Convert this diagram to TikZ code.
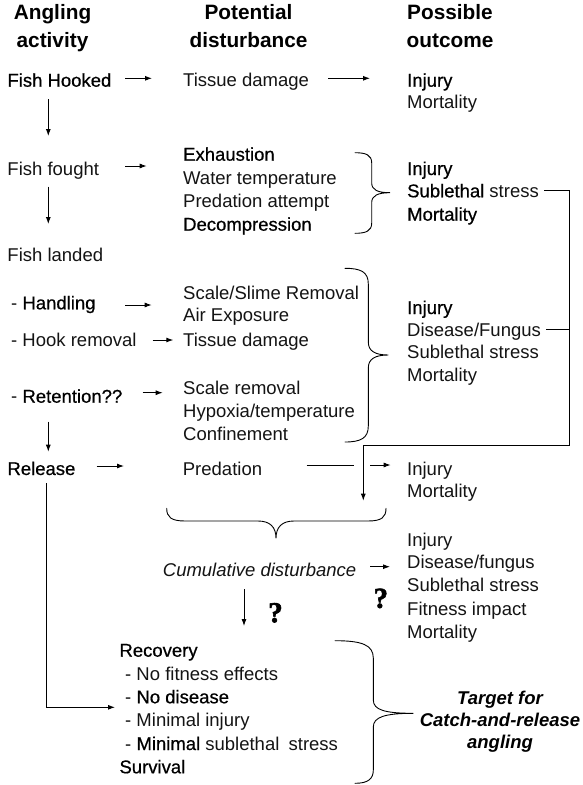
\documentclass[tikz,border=0pt]{standalone}
\usepackage{fontspec}
\setmainfont{Liberation Sans}
\newfontfamily\heavyfont[FakeBold=0.6]{Liberation Sans}
\newfontfamily\qfont[BoldFeatures={FakeBold=2}]{Liberation Serif}
\usetikzlibrary{arrows.meta}
\newcommand\darkword[1]{{\heavyfont\color{black}#1}}
\tikzset{
  txt/.style={anchor=base west, inner sep=0pt, font=\fontsize{18.5}{22}\selectfont, text=black!92},
  hdr/.style={anchor=base, inner sep=0pt, font=\fontsize{20.8}{26}\selectfont\bfseries, text=black},
  tgt/.style={anchor=base, inner sep=0pt, font=\fontsize{18.5}{22}\selectfont\bfseries\itshape, text=black},
  qmark/.style={anchor=base, inner sep=0pt, font=\fontsize{29}{29}\selectfont\qfont\bfseries, text=black},
  arr/.style={-{Latex[length=7pt,width=5pt]}, line width=0.9pt},
  link/.style={line width=0.9pt},
  brace/.style={line width=0.9pt, line cap=round}
}
\begin{document}
\begin{tikzpicture}[x=1pt,y=-1pt]
\useasboundingbox[fill=white] (0,0) rectangle (583,785);

% column headers
\node[hdr] (h1a) at (52.5,19) {Angling};
\node[hdr] (h1b) at (52.5,47) {activity};
\node[hdr] (h2a) at (248.5,19) {Potential};
\node[hdr] (h2b) at (248.5,47) {disturbance};
\node[hdr] (h3a) at (450,19) {Possible};
\node[hdr] (h3b) at (450,47) {outcome};

% angling activity
\node[txt] (hooked) at (7.3,86.7) {\darkword{Fish Hooked}};
\node[txt] (fought) at (7.3,175) {Fish fought};
\node[txt] (landed) at (7.3,261.7) {Fish landed};
\node[txt] (handling) at (11,309.3) {- \darkword{Handling}};
\node[txt] (hookrem) at (11,346) {- Hook removal};
\node[txt] (retention) at (11,402.7) {- \darkword{Retention??}};
\node[txt] (release) at (7.3,475) {\darkword{Release}};

% potential disturbance
\node[txt] (tissueA) at (183,86.7) {Tissue damage};
\node[txt] (exh) at (183,160.7) {\darkword{Exhaustion}};
\node[txt] (water) at (183,184) {Water temperature};
\node[txt] (predatt) at (183,207.3) {Predation attempt};
\node[txt] (decomp) at (183,230.7) {\darkword{Decompression}};
\node[txt] (slime) at (183,299.3) {Scale/Slime Removal};
\node[txt] (air) at (183,321.7) {Air Exposure};
\node[txt] (tissueB) at (183,346) {Tissue damage};
\node[txt] (scale) at (183,394.3) {Scale removal};
\node[txt] (hypoxia) at (183,417.3) {Hypoxia/temperature};
\node[txt] (confine) at (183,440.7) {Confinement};
\node[txt] (predation) at (182.7,475) {Predation};
\node[txt, font=\fontsize{18.5}{22}\selectfont\itshape] (cumul) at (162.7,576.7) {Cumulative disturbance};

% possible outcome
\node[txt] (injA) at (407,86.7) {\darkword{Injury}};
\node[txt] (mortA) at (407,108.3) {Mortality};
\node[txt] (injB) at (407,175) {\darkword{Injury}};
\node[txt] (sublB) at (407,197.3) {\darkword{Sublethal} stress};
\node[txt] (mortB) at (407,220.7) {\darkword{Mortality}};
\node[txt] (injC) at (407,314) {\darkword{Injury}};
\node[txt] (disC) at (407,336) {Disease/Fungus};
\node[txt] (sublC) at (407,358.5) {Sublethal stress};
\node[txt] (mortC) at (407,381) {Mortality};
\node[txt] (injD) at (407,475) {Injury};
\node[txt] (mortD) at (407,497.3) {Mortality};
\node[txt] (injE) at (407,546) {Injury};
\node[txt] (disE) at (407,568.3) {Disease/fungus};
\node[txt] (sublE) at (407,591.7) {Sublethal stress};
\node[txt] (fitE) at (407,615) {Fitness impact};
\node[txt] (mortE) at (407,638.3) {Mortality};

% recovery block
\node[txt] (recovery) at (119.3,656.7) {\darkword{Recovery}};
\node[txt] (nofit) at (125,680) {- No fitness effects};
\node[txt] (nodis) at (125,703.3) {- \darkword{No disease}};
\node[txt] (mininj) at (125,726.7) {- Minimal injury};
\node[txt] (minsub) at (125,750) {- \darkword{Minimal} sublethal\hspace{0.5em}stress};
\node[txt] (survival) at (119.3,773.3) {\darkword{Survival}};

\node[tgt] (tgtA) at (500,704.8) {Target for};
\node[tgt] (tgtB) at (500,726.7) {Catch-and-release};
\node[tgt] (tgtC) at (500,748.6) {angling};

% question marks
\node[qmark] (qright) at (380.8,607.8) {?};
\node[qmark] (qdown) at (275.5,622.2) {?};

% junction points of the feedback line
\coordinate (cornerSE) at (569,445);
\coordinate (cornerSW) at (363.3,445);
\coordinate (cumIn) at (363.3,500.7);
\coordinate (hopL) at (354,465);
\coordinate (hopR) at (370,465);
\coordinate (sublEnd) at ([shift={(5,-6.5)}]sublB.base east);
\coordinate (disEnd) at ([shift={(5,-7)}]disC.base east);

% horizontal arrows
\draw[arr] ([shift={(117.7,-8.4)}]hooked.base west) -- ([shift={(-31,-8.4)}]tissueA.base west);
\draw[arr] ([shift={(145,-8.4)}]tissueA.base west) -- ([shift={(-37,-8.4)}]injA.base west);
\draw[arr] ([shift={(117.7,-9)}]fought.base west) -- ([shift={(-36.3,5.3)}]exh.base west);
\draw[arr] ([shift={(114,-4.3)}]handling.base west) -- ([shift={(-31.3,5.7)}]slime.base west);
\draw[arr] ([shift={(141.7,-6)}]hookrem.base west) -- ([shift={(-9.7,-6)}]tissueB.base west);
\draw[arr] ([shift={(131.7,-10)}]retention.base west) -- ([shift={(-20.3,-1.6)}]scale.base west);
\draw[arr] ([shift={(89.4,-9)}]release.base west) -- ([shift={(-58.7,-9)}]predation.base west);
\draw[link] ([shift={(124,-10)}]predation.base west) -- (hopL);
\draw[arr] (hopR) -- ([shift={(-16.3,-10)}]injD.base west);
\draw[arr] ([shift={(14,-10)}]cumul.base east) -- ([shift={(-17,-1.6)}]disE.base west);

% vertical arrows
\draw[arr] ([shift={(41,12.6)}]hooked.base west) -- ([shift={(41,-39)}]fought.base west);
\draw[arr] ([shift={(41,11.7)}]fought.base west) -- ([shift={(41,-37.7)}]landed.base west);
\draw[arr] ([shift={(37.3,19)}]retention.base west) -- ([shift={(41,-23.3)}]release.base west);
\draw[arr] ([shift={(81.3,12.6)}]cumul.base west) -- ([shift={(124.7,-30.7)}]recovery.base west);
\draw[arr] ([shift={(39.4,8.3)}]release.base west) |- ([shift={(-10,4)}]nodis.base west);

% feedback line from the outcomes into the cumulative brace
\draw[arr] (sublEnd) -| (cornerSE) -- (cornerSW) -- (cumIn);
\draw[link] (disEnd) -- (disEnd -| cornerSE);

% braces
\draw[brace] (355,152.7) .. controls (366,152.7) and (371.7,155) .. (371.7,163) -- (371.7,183)
  .. controls (371.7,190) and (378,192.7) .. (390,192.7)
  .. controls (378,192.7) and (371.7,195.5) .. (371.7,202.5) -- (371.7,223)
  .. controls (371.7,231) and (366,233.3) .. (355,233.3);
\draw[brace] (345,268.3) .. controls (361,268.3) and (368.3,272) .. (368.3,284) -- (368.3,342)
  .. controls (368.3,351) and (375,355) .. (388.3,355)
  .. controls (375,355) and (368.3,359) .. (368.3,368) -- (368.3,426)
  .. controls (368.3,438) and (361,442) .. (345,442);
\draw[brace] (166.7,508.3) .. controls (166.7,517) and (171,521) .. (185,521) -- (258,521)
  .. controls (270,521) and (276,527) .. (276,538.3)
  .. controls (276,527) and (282,521) .. (294,521) -- (368,521)
  .. controls (382,521) and (386,517) .. (386,508.3);
\draw[brace] (335,640.7) .. controls (362,640.7) and (373.3,645) .. (373.3,658) -- (373.3,700)
  .. controls (373.3,710) and (385,713.3) .. (413.3,713.3)
  .. controls (385,713.3) and (373.3,717) .. (373.3,727) -- (373.3,770)
  .. controls (373.3,779) and (368,783.3) .. (355,783.3);
\end{tikzpicture}
\end{document}
